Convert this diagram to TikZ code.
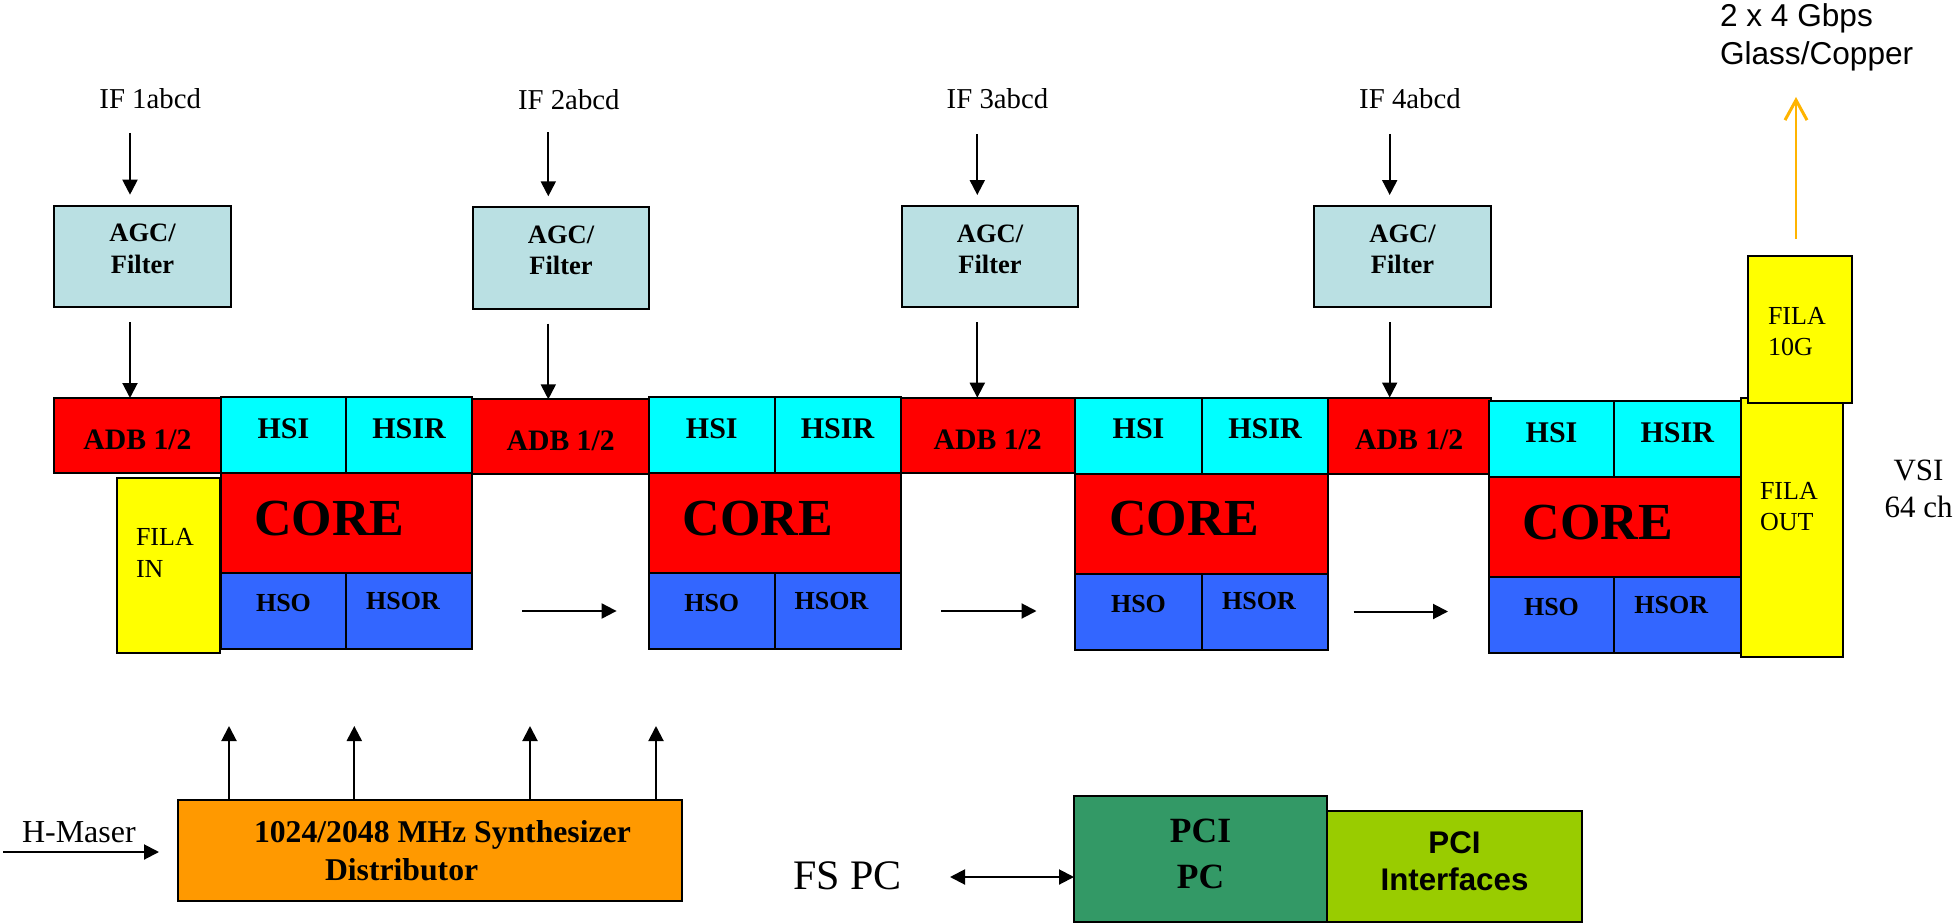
\documentclass[tikz,border=0pt]{standalone}
\usepackage{fontspec}
\setmainfont{Liberation Serif}
\newfontfamily\arialfont{Liberation Sans}
\usetikzlibrary{arrows.meta,calc}

\definecolor{agcblue}{RGB}{186,224,227}
\definecolor{adbred}{RGB}{255,0,0}
\definecolor{hsicyan}{RGB}{0,255,255}
\definecolor{hsoblue}{RGB}{51,102,255}
\definecolor{filayellow}{RGB}{255,255,0}
\definecolor{synthorange}{RGB}{255,153,0}
\definecolor{pcgreen}{RGB}{51,153,102}
\definecolor{ifgreen}{RGB}{153,204,0}
\definecolor{linkorange}{RGB}{255,180,0}

% font size / baseline skip
\newcommand\fsz[2]{\fontsize{#1}{#2}\selectfont}
% multi-line text whose base anchor is the first baseline
\newcommand\cstack[1]{\vtop{\halign{\hfil##\hfil\cr#1\crcr}}}
\newcommand\lstack[1]{\vtop{\halign{##\hfil\cr#1\crcr}}}
% rectangle node given by its corners: name, style, x1, y1, x2, y2
\newcommand\drawbox[6]{%
  \pgfmathsetmacro\bxw{(#5)-(#3)}%
  \pgfmathsetmacro\bxh{(#6)-(#4)}%
  \node[#2, anchor=north west, minimum width=\bxw pt, minimum height=\bxh pt] (#1) at ({#3},{#4}) {};%
}
% HSI/HSIR + CORE + HSO/HSOR stack: index, left x, split x, right x, top y
\newcommand\hsblock[5]{%
  \drawbox{hsi#1}{cyanbox}{#2}{#5}{#3}{#5+76}
  \drawbox{hsir#1}{cyanbox}{#3}{#5}{#4}{#5+76}
  \drawbox{core#1}{redbox}{#2}{#5+76}{#4}{#5+176}
  \drawbox{hso#1}{bluebox}{#2}{#5+176}{#3}{#5+252}
  \drawbox{hsor#1}{bluebox}{#3}{#5+176}{#4}{#5+252}
  \node[txt, font=\fsz{30}{36}\bfseries, anchor=base] at ($(hsi#1.north)+(0,41)$) {HSI};
  \node[txt, font=\fsz{30}{36}\bfseries, anchor=base] at ($(hsir#1.north)+(0,41)$) {HSIR};
  \node[txt, font=\fsz{52}{60}\bfseries, anchor=base] at ($(core#1.north)+(-17,62)$) {CORE};
  \node[txt, font=\fsz{26}{31}\bfseries, anchor=base] at ($(hso#1.north)+(0,38.7)$) {HSO};
  \node[txt, font=\fsz{26}{31}\bfseries, anchor=base] at ($(hsor#1.north)+(-6,36)$) {HSOR};
}

\tikzset{
  bx/.style={rectangle, draw=black, line width=2pt, inner sep=0pt, outer sep=0pt},
  agcbox/.style={bx, fill=agcblue},
  redbox/.style={bx, fill=adbred},
  cyanbox/.style={bx, fill=hsicyan},
  bluebox/.style={bx, fill=hsoblue},
  yellowbox/.style={bx, fill=filayellow},
  synthbox/.style={bx, fill=synthorange},
  pcbox/.style={bx, fill=pcgreen},
  ifbox/.style={bx, fill=ifgreen},
  txt/.style={inner sep=0pt, outer sep=0pt},
  arr/.style={line width=2pt, -{Triangle[length=15pt,width=15pt]}},
  darr/.style={line width=2pt, {Triangle[length=15pt,width=15pt]}-{Triangle[length=15pt,width=15pt]}},
  oarr/.style={draw=linkorange, line width=2pt, -{Straight Barb[length=20pt,width=22pt,line width=3pt]}},
}

\begin{document}
\begin{tikzpicture}[x=1pt, y=-1pt]
\useasboundingbox (0,0) rectangle (1954,923);

% IF inputs
\node[txt, font=\fsz{28.8}{34}, anchor=base] (if1) at (150.2,108.3) {IF 1abcd};
\node[txt, font=\fsz{28.8}{34}, anchor=base] (if2) at (568.8,110) {IF 2abcd};
\node[txt, font=\fsz{28.8}{34}, anchor=base] (if3) at (997.5,108.3) {IF 3abcd};
\node[txt, font=\fsz{28.8}{34}, anchor=base] (if4) at (1410,108.3) {IF 4abcd};

% AGC / filter boxes
\drawbox{agc1}{agcbox}{54}{205.7}{231}{307.3}
\drawbox{agc2}{agcbox}{472.7}{207.3}{649.3}{308.7}
\drawbox{agc3}{agcbox}{901.7}{206}{1078.3}{307.3}
\drawbox{agc4}{agcbox}{1314}{206}{1491}{307.3}
\foreach \i in {1,...,4}{
  \node[txt, font=\fsz{26.5}{31.6}\bfseries, anchor=base] at ($(agc\i.north)+(0,36)$) {\cstack{AGC/\cr Filter}};
}

% ADB boxes
\drawbox{adb1}{redbox}{54}{398}{221}{473.3}
\drawbox{adb2}{redbox}{472.3}{399.3}{649}{474.3}
\drawbox{adb3}{redbox}{900.5}{397.7}{1075}{473.3}
\drawbox{adb4}{redbox}{1328}{397.5}{1490.5}{473.5}
\foreach \i in {1,...,4}{
  \node[txt, font=\fsz{29.7}{36}\bfseries, anchor=base] at ($(adb\i.north)+(0,51.5)$) {ADB 1/2};
}

% processing stacks
\hsblock{1}{221}{346}{472}{397}
\hsblock{2}{649}{774.5}{900.5}{397}
\hsblock{3}{1075}{1202}{1328}{397.5}
\hsblock{4}{1489}{1614}{1740.5}{401}

% FILA boards
\drawbox{filain}{yellowbox}{116.6}{478}{219.7}{653}
\node[txt, font=\fsz{26}{31.3}, anchor=base west] at (136,545.7) {\lstack{FILA\cr IN}};
\drawbox{filaout}{yellowbox}{1740.5}{398}{1843}{657}
\node[txt, font=\fsz{26}{31.5}, anchor=base west] at (1760,499) {\lstack{FILA\cr OUT}};
\drawbox{fila10g}{yellowbox}{1748}{256}{1852}{403}
\node[txt, font=\fsz{26}{31.5}, anchor=base west] at (1768,324) {\lstack{FILA\cr 10G}};

\node[txt, font=\fsz{31}{37}, anchor=base] (vsi) at (1918.5,480) {\cstack{VSI\cr 64 ch}};
\node[txt, font=\arialfont\fsz{31.6}{38.3}, anchor=base west] (link) at (1720,26.7) {\lstack{2 x 4 Gbps\cr Glass/Copper}};

% input arrows
\coordinate (t1) at (130,133);
\coordinate (t2) at (548.3,132.3);
\coordinate (t3) at (977.3,134.3);
\coordinate (t4) at (1389.7,134);
\foreach \i in {1,...,4}{
  \draw[arr, shorten >=11pt] (t\i) -- (t\i |- agc\i.north);
  \draw[arr, shorten <=15pt] (agc\i.south -| t\i) -- (adb\i.north -| t\i);
}

% data flow between stacks
\draw[arr, shorten <=50pt, shorten >=32.4pt] (hsor1.east) -- (hsor1.east -| hso2.west);
\draw[arr, shorten <=40.5pt, shorten >=38.5pt] (hsor2.east) -- (hsor2.east -| hso3.west);
\draw[arr, shorten <=25.5pt, shorten >=41pt] (hsor3.east) -- (hsor3.east -| hso4.west);

% output link
\coordinate (o1) at (1796,97);
\draw[oarr, shorten <=17pt] (fila10g.north -| o1) -- (o1);

% synthesizer
\drawbox{synth}{synthbox}{178}{800}{682}{901}
\node[txt, font=\fsz{31.7}{38}\bfseries, anchor=base west] at (254,842) {\lstack{1024/2048 MHz Synthesizer\cr\hspace*{71pt}Distributor}};
\node[txt, font=\fsz{32}{38}, anchor=base west] (hmaser) at (22,842) {H-Maser};
\coordinate (hm) at (3,852);
\draw[arr, shorten >=19pt] (hm) -- (hm -| synth.west);
\coordinate (u1) at (229,726);
\coordinate (u2) at (354.3,726);
\coordinate (u3) at (530,726);
\coordinate (u4) at (656,726);
\foreach \i in {1,...,4}{
  \draw[arr] (synth.north -| u\i) -- (u\i);
}

% PC side
\drawbox{pciif}{ifbox}{1327}{811}{1582}{922}
\drawbox{pcipc}{pcbox}{1074}{796}{1327}{922}
\node[txt, font=\fsz{35.5}{46}\bfseries, anchor=base] at ($(pcipc.north)+(0,46)$) {\cstack{PCI\cr PC}};
\node[txt, font=\arialfont\fsz{31.3}{37}\bfseries, anchor=base] at ($(pciif.north)+(0,42)$) {\cstack{PCI\cr Interfaces}};
\node[txt, font=\fsz{42}{50}, anchor=base west] (fspc) at (793,889) {FS PC};
\coordinate (fs) at (950,877);
\draw[darr] (fs) -- (fs -| pcipc.west);
\end{tikzpicture}
\end{document}
